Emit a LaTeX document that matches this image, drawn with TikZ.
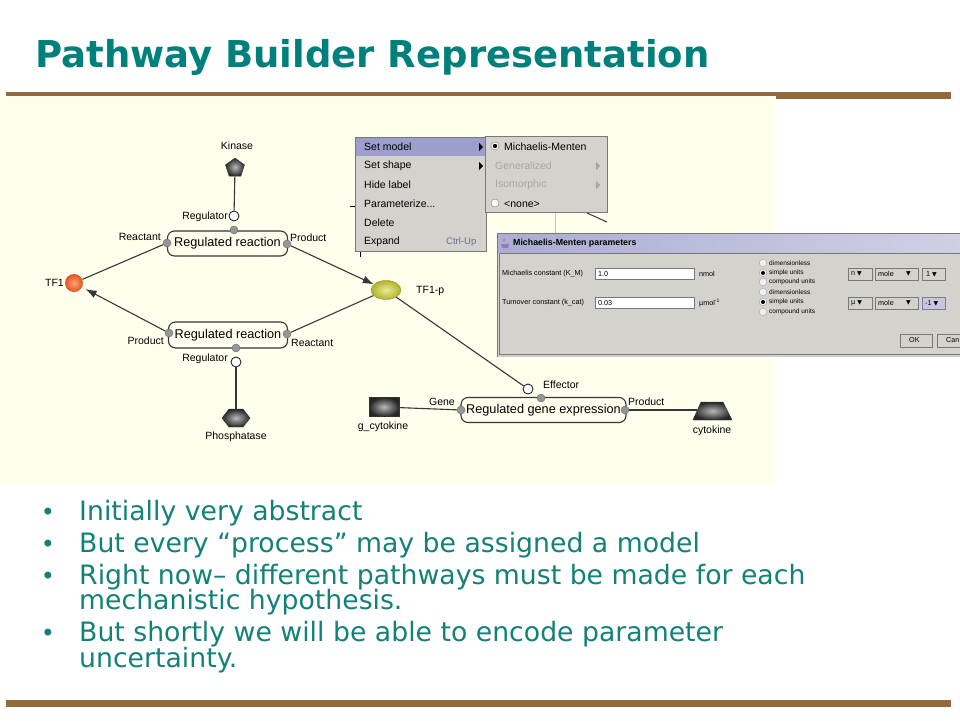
\documentclass[tikz,border=0pt]{standalone}
\usepackage{fontspec}
\setmainfont{DejaVu Sans}
\newfontfamily\uifont{Liberation Sans}
\newfontfamily\symfont{DejaVu Sans}
\usetikzlibrary{shapes.geometric,arrows.meta}
\definecolor{titleteal}{RGB}{0,128,122}
\definecolor{bodyteal}{RGB}{18,130,120}
\definecolor{brownbar}{RGB}{150,104,62}
\definecolor{cream}{RGB}{255,255,238}
\definecolor{wingray}{RGB}{212,210,205}
\definecolor{hilite}{RGB}{158,158,206}
\definecolor{linegray}{RGB}{55,55,55}
\definecolor{portgray}{RGB}{150,150,150}
\definecolor{disabled}{RGB}{165,165,165}
\definecolor{frame}{RGB}{120,120,120}
\definecolor{ctrlblue}{RGB}{105,105,145}
\definecolor{tfin}{RGB}{250,165,115}
\definecolor{tfout}{RGB}{228,82,32}
\definecolor{tfpin}{RGB}{235,235,150}
\definecolor{tfpout}{RGB}{178,178,42}
\definecolor{tfpdraw}{RGB}{150,150,40}
\definecolor{barleft}{RGB}{172,172,212}
\definecolor{barright}{RGB}{208,208,228}
\definecolor{iconpurple}{RGB}{150,120,190}
\definecolor{iconorange}{RGB}{220,120,60}
\definecolor{focusdraw}{RGB}{120,120,175}
\definecolor{focusfill}{RGB}{200,200,215}
\begin{document}
\begin{tikzpicture}[x=1pt,y=-1pt,
  lbl/.style={font=\uifont\fontsize{10.5}{12}\selectfont, inner sep=0},
  procbox/.style={draw=linegray, line width=1.1pt, rounded corners=7pt, fill=cream, inner sep=0, font=\uifont\fontsize{12.7}{14}\selectfont},
  port/.style={circle, fill=portgray, draw=gray!80!black, minimum size=8pt, inner sep=0},
  regc/.style={circle, draw=black!85, fill=white, line width=0.9pt, minimum size=10pt, inner sep=0},
  conn/.style={draw=linegray, line width=1.1pt},
  arr/.style={conn, -{Latex[length=11pt,width=8pt]}},
  darkshade/.style={shading=radial, inner color=gray!55, outer color=black!85, draw=black!80},
  menutxt/.style={font=\uifont\fontsize{10.5}{12}\selectfont, anchor=west, inner sep=0},
  dlgtxt/.style={font=\uifont\fontsize{7.2}{8}\selectfont, anchor=west, inner sep=0},
  tinytxt/.style={font=\uifont\fontsize{6.5}{7}\selectfont, anchor=west, inner sep=0},
  bullettxt/.style={font=\fontsize{26.7}{30}\selectfont, text=bodyteal, anchor=base west, inner sep=0},
  bulletdot/.style={font=\fontsize{24}{30}\selectfont, text=bodyteal, anchor=base, inner sep=0},
  dropbox/.style={draw=frame, fill=wingray},
]
\useasboundingbox (0,0) rectangle (960,720);
\fill[white] (0,0) rectangle (960,720);

% title and bars
\node[anchor=base west, font=\bfseries\fontsize{37}{40}\selectfont, text=titleteal, inner sep=0] (title) at (35,67) {Pathway Builder Representation};
\fill[brownbar] (6,92) rectangle (951,99);
\fill[brownbar] (6,700) rectangle (951,707);
\fill[cream] (0,96) rectangle (776,484);

% ---------- diagram ----------
\node[regular polygon, regular polygon sides=5, minimum size=20pt, inner sep=0, darkshade] (kinase) at (235,168) {};
\node[lbl] (kinaselbl) at (237,146) {Kinase};
\node[regc] (reg1) at (234,216) {};
\node[lbl, anchor=east] (reg1lbl) at (228,217) {Regulator};
\node[procbox, minimum width=120pt, minimum height=25pt] (rxn1) at (227.5,243.5) {Regulated reaction};
\node[port] (p1t) at (234,230) {};
\node[port] (p1l) at (167,243) {};
\node[port] (p1r) at (287,244) {};
\node[lbl, anchor=east] (reac1) at (161,237) {Reactant};
\node[lbl, anchor=west] (prod1) at (290,238) {Product};

\node[circle, minimum size=18pt, inner sep=0, shading=radial, inner color=tfin, outer color=tfout] (tf1) at (74,283) {};
\node[lbl, anchor=east] (tf1lbl) at (64,283) {TF1};

\node[ellipse, minimum width=30pt, minimum height=19pt, inner sep=0, draw=tfpdraw, shading=radial, inner color=tfpin, outer color=tfpout] (tf1p) at (386,290) {};
\node[lbl, anchor=west] (tf1plbl) at (416,291) {TF1-p};

\node[procbox, minimum width=119pt, minimum height=26pt] (rxn2) at (228,335) {Regulated reaction};
\node[port] (p2l) at (169,333) {};
\node[port] (p2r) at (287,334) {};
\node[port] (p2b) at (236,348) {};
\node[lbl, anchor=east] (prod2) at (164,341) {Product};
\node[lbl, anchor=west] (reac2) at (291,343) {Reactant};
\node[lbl, anchor=east] (reg2lbl) at (228,359) {Regulator};
\node[regc] (reg2) at (236,362) {};
\shade[inner color=gray!55, outer color=black!85, draw=black!80] (222,418) -- (229,409) -- (243,409) -- (250,418) -- (243,427) -- (229,427) -- cycle;
\coordinate (phos) at (236,409);
\node[lbl] (phoslbl) at (236,437) {Phosphatase};

\node[regc] (eff) at (528,389) {};
\node[lbl, anchor=west] (efflbl) at (543,385) {Effector};
\node[procbox, minimum width=165pt, minimum height=25pt] (gene) at (543.5,410) {Regulated gene expression};
\node[port] (p3t) at (541,398) {};
\node[port] (p3l) at (461,410) {};
\node[port] (p3r) at (625,410) {};
\node[lbl, anchor=east] (genelbl) at (455,402) {Gene};
\node[lbl, anchor=west] (prod3) at (628,402) {Product};
\node[rectangle, minimum width=30pt, minimum height=19pt, inner sep=0, darkshade] (gcyt) at (384,407) {};
\node[lbl] (gcytlbl) at (383,427) {g\_cytokine};
\shade[inner color=gray!55, outer color=black!85, draw=black!80] (693,420) -- (701,402) -- (723,402) -- (732,420) -- cycle;
\coordinate (cyt) at (697,410);
\node[lbl] (cytlbl) at (712,431) {cytokine};

\draw[conn] (kinase) -- (reg1);
\draw[conn] (tf1) -- (p1l);
\draw[arr] (p1r) -- (tf1p);
\draw[conn] (tf1p) -- (p2r);
\draw[arr, shorten >=4pt] (p2l) -- (tf1);
\draw[conn] (reg2) -- (phos);
\draw[conn] (tf1p) -- (eff);
\draw[conn] (gcyt) -- (p3l);
\draw[conn] (p3r) -- (cyt);

% fragments of the screenshot
\draw[linegray, line width=1pt] (587,213) -- (607,222);
\draw[gray!45] (555,213) -- (555,233);
\draw[black] (350,206) -- (355,206);
\draw[black] (360,252) -- (360,257);

% ---------- context menu ----------
\fill[wingray] (355,137) rectangle (487,252);
\draw[frame] (355.5,137.5) rectangle (486.5,251.5);
\fill[hilite] (356,138) rectangle (486,156);
\node[menutxt] (m1) at (364,147) {Set model};
\node[menutxt] (m2) at (364,166) {Set shape};
\node[menutxt] (m3) at (364,185) {Hide label};
\node[menutxt] (m4) at (364,204) {Parameterize...};
\node[menutxt] (m5) at (364,223) {Delete};
\node[menutxt] (m6) at (364,242) {Expand};
\node[menutxt, font=\uifont\fontsize{9.5}{11}\selectfont, text=ctrlblue] (m6k) at (446,242) {Ctrl-Up};
\fill (479,143) -- (483,147) -- (479,151) -- cycle;
\fill (479,162) -- (483,166) -- (479,170) -- cycle;

% submenu
\fill[wingray] (485,136) rectangle (608,213);
\draw[frame] (485.5,136.5) rectangle (607.5,212.5);
\draw[frame, fill=white] (495,146) circle (4);
\fill (495,146) circle (2.2);
\node[menutxt] (s1) at (504,147) {Michaelis-Menten};
\node[menutxt, text=disabled] (s2) at (495,166) {Generalized};
\node[menutxt, text=disabled] (s3) at (495,185) {Isomorphic};
\draw[frame, fill=white] (495,203) circle (4);
\node[menutxt] (s4) at (504,204) {<none>};
\fill[disabled] (596,162) -- (600,166) -- (596,170) -- cycle;
\fill[disabled] (596,181) -- (600,185) -- (596,189) -- cycle;

% ---------- dialog ----------
\fill[wingray] (497,233) rectangle (962,357);
\draw[frame] (497.5,357) -- (497.5,233.5) -- (962,233.5);
\draw[gray!40] (498.5,356.5) -- (962,356.5);
\shade[left color=barleft, right color=barright] (498,234) rectangle (962,252);
\fill[iconpurple] (501,244) -- (509,244) -- (508,248) -- (502,248) -- cycle;
\fill[iconorange] (504,240) circle (1.4);
\node[dlgtxt, font=\uifont\bfseries\fontsize{8.8}{10}\selectfont] (dlgtitle) at (513,243) {Michaelis-Menten parameters};
\draw[frame] (499.5,253.5) rectangle (962,354.5);

\node[dlgtxt] (km) at (502,274) {Michaelis constant (K\_M)};
\draw[frame, fill=white] (595,268.5) rectangle (694,279.5);
\node[dlgtxt] (kmval) at (598,274) {1.0};
\node[dlgtxt] (kmunit) at (699,274) {nmol};
\node[dlgtxt] (kc) at (502,303) {Turnover constant (k\_cat)};
\draw[frame, fill=white] (595,297.5) rectangle (694,308.5);
\node[dlgtxt] (kcval) at (598,303) {0.03};
\node[dlgtxt] (kcunit) at (699,303) {µmol\textsuperscript{-1}};

\foreach \yy/\on in {263/0,273/1,282/0,292/0,302/1,312/0}{
  \draw[gray!70, fill=gray!12] (763,\yy) circle (3.8);
  \ifnum\on=1 \fill (763,\yy) circle (2); \fi
}
\node[tinytxt] (r1) at (769,263) {dimensionless};
\node[tinytxt] (r2) at (769,273) {simple units};
\node[tinytxt] (r3) at (769,282) {compound units};
\node[tinytxt] (r4) at (769,292) {dimensionless};
\node[tinytxt] (r5) at (769,302) {simple units};
\node[tinytxt] (r6) at (769,312) {compound units};

\draw[dropbox] (848,268.5) rectangle (872,280);
\node[dlgtxt] (d1) at (851,274) {n \symfont\fontsize{6}{7}\selectfont ▼};
\draw[dropbox] (875,268.5) rectangle (918,280);
\node[dlgtxt] (d2) at (878,274) {mole};
\node[dlgtxt, font=\symfont\fontsize{6}{7}\selectfont] (d2a) at (906,274) {▼};
\draw[dropbox] (922,268.5) rectangle (945,280);
\node[dlgtxt] (d3) at (926,274) {1 \symfont\fontsize{6}{7}\selectfont ▼};
\draw[dropbox] (848,297.5) rectangle (872,309.5);
\node[dlgtxt] (d4) at (851,303) {µ \symfont\fontsize{6}{7}\selectfont ▼};
\draw[dropbox] (875,297.5) rectangle (918,309.5);
\node[dlgtxt] (d5) at (878,303) {mole};
\node[dlgtxt, font=\symfont\fontsize{6}{7}\selectfont] (d5a) at (906,303) {▼};
\draw[dropbox, draw=focusdraw, fill=focusfill] (922,297.5) rectangle (945,309.5);
\node[dlgtxt] (d6) at (925,303) {-1 \symfont\fontsize{6}{7}\selectfont ▼};

\draw[dropbox] (900,334) rectangle (932,347);
\node[dlgtxt] (ok) at (909,340.5) {OK};
\draw[dropbox] (937,334) rectangle (975,347);
\node[dlgtxt] (cancel) at (946,340.5) {Can};

% ---------- bullets ----------
\node[bulletdot] (b1) at (48,520) {•};
\node[bullettxt] (t1) at (79,520) {Initially very abstract};
\node[bulletdot] (b2) at (48,552) {•};
\node[bullettxt] (t2) at (79,552) {But every “process” may be assigned a model};
\node[bulletdot] (b3) at (48,584) {•};
\node[bullettxt] (t3) at (79,584) {Right now– different pathways must be made for each};
\node[bullettxt] (t3b) at (79,609) {mechanistic hypothesis.};
\node[bulletdot] (b4) at (48,641) {•};
\node[bullettxt] (t4) at (79,641) {But shortly we will be able to encode parameter};
\node[bullettxt] (t4b) at (79,667) {uncertainty.};
\end{tikzpicture}
\end{document}
